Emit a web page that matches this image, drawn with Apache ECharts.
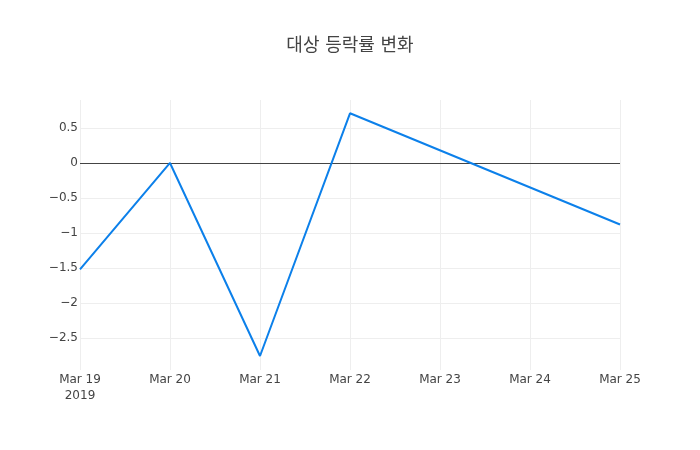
<!DOCTYPE html>
<html><head><meta charset="utf-8">
<script src="https://cdn.jsdelivr.net/npm/echarts@6/dist/echarts.min.js"></script>
<style>html,body{margin:0;padding:0;background:#fff}#c{width:700px;height:450px}</style>
</head><body><div id="c"></div>
<script>
const titleText = '대상 등락률 변화';
const dates = ['Mar 19\n2019', 'Mar 20', 'Mar 21', 'Mar 22', 'Mar 23', 'Mar 24', 'Mar 25'];
const values = [-1.52, 0, -2.76, 0.71, null, null, -0.88];
const yTicks = [-2.5, -2, -1.5, -1, -0.5, 0, 0.5];
const yMin = -2.96, yMax = 0.9;

const FONT = '"DejaVu Sans", "Noto Sans CJK KR", sans-serif';
const chart = echarts.init(document.getElementById('c'));
chart.setOption({
  backgroundColor: '#fff',
  animation: false,
  title: {
    text: titleText, left: 'center', top: 32,
    textStyle: {fontFamily: FONT, fontSize: 18, fontWeight: 'normal', color: '#444'}
  },
  grid: {left: 80, right: 80, top: 100, bottom: 80},
  xAxis: {
    type: 'category', data: dates, boundaryGap: false,
    axisLine: {show: false}, axisTick: {show: false},
    splitLine: {show: true, lineStyle: {color: '#eee', width: 1}},
    axisLabel: {fontFamily: FONT, fontSize: 12, color: '#444', margin: 2, lineHeight: 16, interval: 0}
  },
  yAxis: {
    type: 'value', min: yMin, max: yMax,
    axisLine: {show: false}, axisTick: {show: false, customValues: yTicks},
    splitLine: {show: true, lineStyle: {color: '#eee', width: 1}},
    axisLabel: {
      customValues: yTicks, fontFamily: FONT, fontSize: 12, color: '#444', margin: 2,
      padding: [3, 0, 0, 0],
      formatter: v => String(v).replace('-', '\u2212')
    }
  },
  series: [{
    type: 'line', data: [], z: 1, silent: true,
    markLine: {
      silent: true, symbol: 'none', z: 1, animation: false,
      label: {show: false},
      lineStyle: {color: '#444', width: 1, type: 'solid'},
      emphasis: {disabled: true},
      data: [{yAxis: 0}]
    }
  }, {
    type: 'line', data: values, connectNulls: true,
    showSymbol: false, symbol: 'none', z: 5,
    lineStyle: {color: '#0c80ea', width: 2}
  }]
});
</script></body></html>
